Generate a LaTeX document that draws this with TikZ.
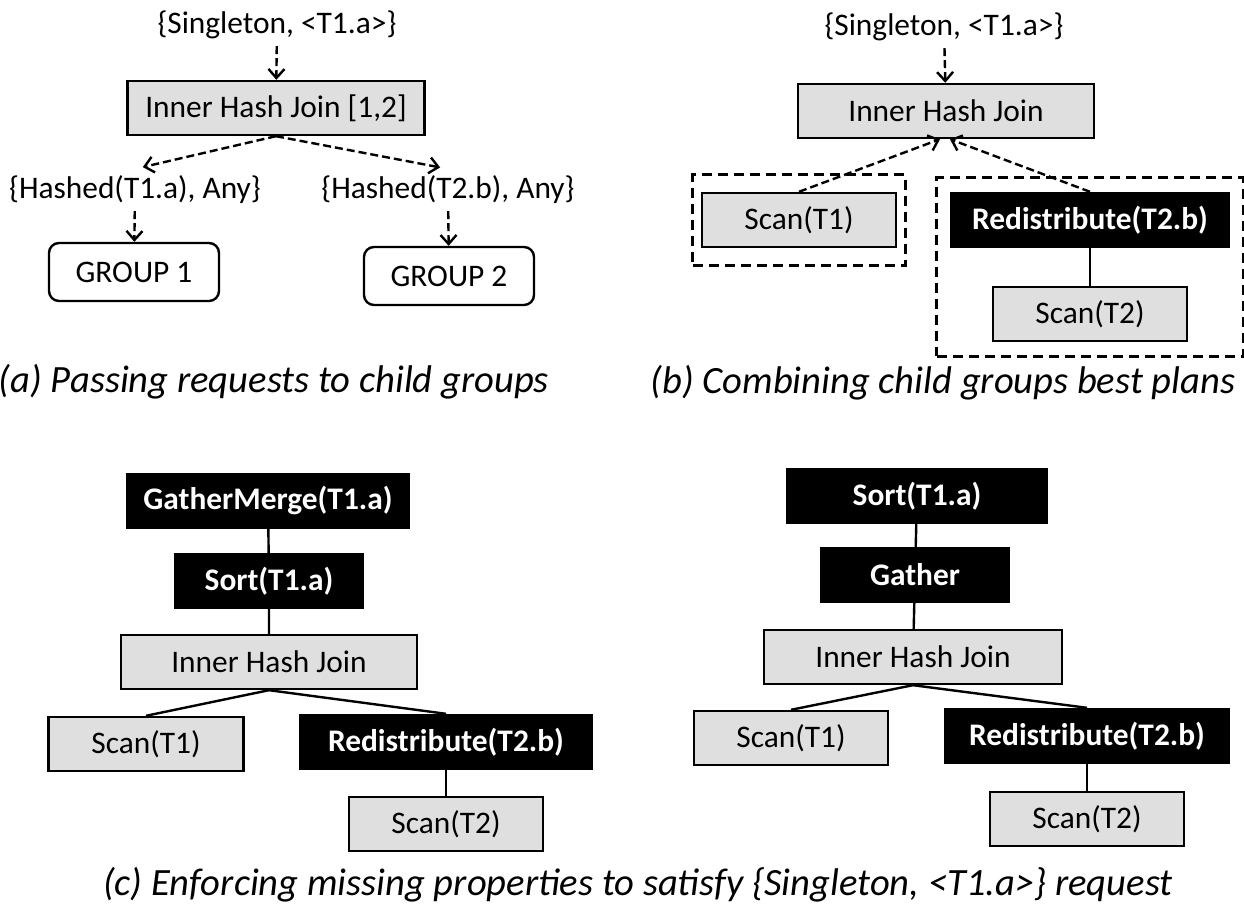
\documentclass[tikz,border=0pt]{standalone}
\usepackage{fontspec}
\setmainfont{Carlito}
\usetikzlibrary{arrows.meta, fit}
\newcommand{\boxfont}{\fontsize{15.7}{18}\selectfont}
\newcommand{\capfont}{\fontsize{19.3}{22}\selectfont\itshape}

\begin{document}
\begin{tikzpicture}[x=0.5pt, y=-0.5pt, font=\boxfont,
    gbox/.style={draw, line width=1.2pt, fill=gray!25, minimum height=27pt},
    bbox/.style={draw, line width=1.2pt, fill=black, text=white, font=\boxfont\bfseries, minimum height=27pt},
    grp/.style={draw, line width=1.2pt, rounded corners=5pt, fill=white, minimum height=29pt, minimum width=85pt},
    ask/.style={line width=1.2pt, dash pattern=on 4pt off 2pt, -{Straight Barb[length=4.5pt, width=8pt]}},
    link/.style={line width=1.2pt},
    grpframe/.style={draw, line width=1.4pt, dash pattern=on 5pt off 3pt},
    capline/.style={font=\capfont}]
  \useasboundingbox (0,0) rectangle (1244,908);

  % (a) requests passed down
  \node (a0) at (277,25) {\{Singleton, <T1.a>\}};
  \node[gbox, minimum width=148.5pt] (a1) at (276,108) {Inner Hash Join [1,2]};
  \node (a2) at (135,190) {\{Hashed(T1.a), Any\}};
  \node (a3) at (448,190) {\{Hashed(T2.b), Any\}};
  \node[grp] (g1) at (134,272) {GROUP 1};
  \node[grp] (g2) at (449,276) {GROUP 2};

  \draw[ask] (a0) -- (a1);
  \draw[ask, shorten >=4pt] (a1.south) -- (a2.north);
  \draw[ask, shorten >=4pt] (a1.south) -- (a3.north);
  \draw[ask] (a2) -- (g1);
  \draw[ask] (a3) -- (g2);

  \node[capline] (capa) at (274,382) {(a) Passing requests to child groups};

  % (b) best plans of the children
  \node (b0) at (944,27) {\{Singleton, <T1.a>\}};
  \node[gbox, minimum width=148pt] (b1) at (946,111) {Inner Hash Join};
  \node[gbox, minimum width=97pt] (b2) at (799,220) {Scan(T1)};
  \node[bbox, minimum width=139pt] (b3) at (1090,220) {Redistribute(T2.b)};
  \node[gbox, minimum width=97pt] (b4) at (1090,314) {Scan(T2)};
  \node[grpframe, fit=(b2), inner xsep=4pt, inner ysep=8.5pt] (f1) {};
  \node[grpframe, fit=(b3)(b4), inner xsep=6.5pt, inner ysep=7pt] (f2) {};

  \draw[ask] (b0) -- (b1);
  \draw[link] (b3) -- (b4);
  \draw[ask] (b2.north) -- ([xshift=-3pt]b1.south);
  \draw[ask] (b3.north) -- ([xshift=2pt]b1.south);

  \node[capline] (capb) at (943,383) {(b) Combining child groups best plans};

  % (c) enforcers, left plan
  \node[bbox, minimum width=141pt] (c1) at (268,501) {GatherMerge(T1.a)};
  \node[bbox, minimum width=94pt] (c2) at (269,581) {Sort(T1.a)};
  \node[gbox, minimum width=148pt] (c3) at (269,662) {Inner Hash Join};
  \node[gbox, minimum width=97.5pt] (c4) at (146,744) {Scan(T1)};
  \node[bbox, minimum width=146pt] (c5) at (446,742) {Redistribute(T2.b)};
  \node[gbox, minimum width=97pt] (c6) at (446,824) {Scan(T2)};

  \draw[link] (c1) -- (c2) -- (c3);
  \draw[link] (c3.south) -- (c4.north);
  \draw[link] (c3.south) -- (c5.north);
  \draw[link] (c5) -- (c6);

  % (c) enforcers, right plan
  \node[bbox, minimum width=130pt] (d1) at (917,496) {Sort(T1.a)};
  \node[bbox, minimum width=94pt] (d2) at (915,575) {Gather};
  \node[gbox, minimum width=149pt] (d3) at (913,657) {Inner Hash Join};
  \node[gbox, minimum width=97pt] (d4) at (791,738) {Scan(T1)};
  \node[bbox, minimum width=142pt] (d5) at (1087,736) {Redistribute(T2.b)};
  \node[gbox, minimum width=97pt] (d6) at (1087,819) {Scan(T2)};

  \draw[link] (d1) -- (d2) -- (d3);
  \draw[link] (d3.south) -- (d4.north);
  \draw[link] (d3.south) -- (d5.north);
  \draw[link] (d5) -- (d6);

  \node[capline] (capc) at (638,885) {(c) Enforcing missing properties to satisfy \{Singleton, <T1.a>\} request};
\end{tikzpicture}
\end{document}
